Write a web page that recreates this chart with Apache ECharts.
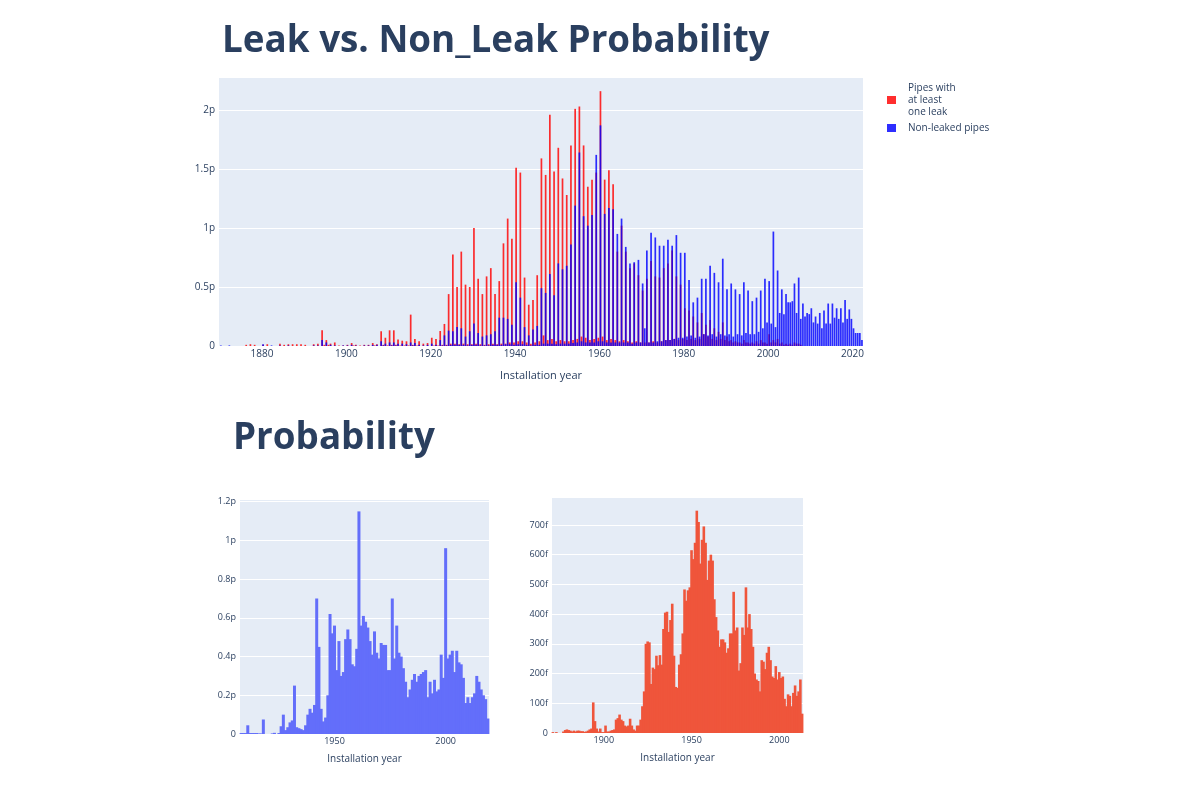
<!DOCTYPE html>
<html><head><meta charset="utf-8">
<script src="https://cdn.jsdelivr.net/npm/echarts@6/dist/echarts.min.js"></script>
<style>html,body{margin:0;padding:0;background:#fff}#c{width:1200px;height:800px}</style>
</head><body><div id="c"></div><script>
// ---------- Top chart: values in pico units, one entry per installation year from 1870 ----------
const topStartYear = 1870;
const topRedMain = [
0,0,0,0,0,0,0.01,0.015,0.01,0,
0.01,0.015,0,0,0.02,0.01,0.015,0.015,0.015,0.015,
0.01,0,0.015,0.02,0.133,0.05,0.02,0.03,0.005,0.005,
0.01,0.025,0.01,0.005,0.01,0.01,0.025,0.015,0.125,0.07,
0.133,0.133,0.055,0.045,0.04,0.266,0.06,0.04,0.02,0.025,
0.07,0.06,0.127,0.187,0.44,0.775,0.50,0.80,0.52,0.50,
1.00,0.57,0.44,0.59,0.66,0.44,0.55,0.87,1.08,0.91,
1.51,1.47,0.58,0.35,0.39,0.60,1.59,1.45,1.96,1.48,
1.68,1.42,1.28,1.70,2.01,2.03,1.70,1.35,1.41,1.47,
2.16,1.41,1.49,1.37,0.80,1.02,0.80,0.66,0.70,0.60,
0.47,0.57,0.72,0.59,0.58,0.66,0.70,0.81,0.59,0.52,
0.32,0.30,0.25,0.20,0.28,0.18,0.22,0.15,0.12,0.20,
0.08,0.05,0.04,0.03,0.05,0.03,0.03,0.04,0.05,0.03,
0.10,0.05,0.06,0.03,0.02,0.02,0.03,0.02,0,0,
0,0,0,0,0,0,0,0,0,0,
0,0,0];
const topBlueMain = [
0.005,0,0.005,0,0,0,0,0,0,0,
0.015,0,0.005,0,0.005,0,0.005,0,0,0,
0,0,0.005,0.005,0.05,0.03,0.01,0.005,0,0.005,
0.005,0.01,0.005,0,0.005,0.005,0.01,0.01,0.04,0.02,
0.03,0.03,0.02,0.02,0.015,0.03,0.025,0.01,0.005,0.01,
0.02,0.01,0.05,0.09,0.13,0.125,0.16,0.15,0.08,0.125,
0.19,0.11,0.08,0.09,0.10,0.125,0.24,0.24,0.23,0.18,
0.54,0.41,0.16,0.09,0.14,0.17,0.49,0.45,0.61,0.43,
0.70,0.65,0.68,0.86,1.19,1.64,1.10,1.02,1.11,1.62,
1.87,1.12,1.17,1.16,0.95,1.08,0.84,0.70,0.71,0.73,
0.53,0.81,0.96,0.92,0.85,0.85,0.90,0.85,0.94,0.79,
0.79,0.56,0.37,0.41,0.57,0.57,0.68,0.62,0.54,0.74,
0.48,0.53,0.48,0.44,0.54,0.47,0.38,0.41,0.47,0.57,
0.55,0.97,0.64,0.48,0.44,0.37,0.53,0.58,0.36,0.28,
0.32,0.25,0.28,0.30,0.36,0.36,0.32,0.32,0.39,0.31,
0.15,0.11,0.05];
// second (half-year) bin of each year
const topRedMinor = [
0,0,0,0,0,0,0,0,0,0,
0,0,0,0,0,0,0,0,0,0,
0,0,0,0,0.01,0.01,0,0,0,0,
0,0.005,0,0,0,0,0.005,0,0.01,0.005,
0.01,0.01,0.005,0.005,0.005,0.01,0.005,0,0,0,
0.005,0.005,0.01,0.01,0.02,0.02,0.015,0.02,0.015,0.015,
0.02,0.015,0.01,0.015,0.02,0.015,0.02,0.02,0.03,0.03,
0.04,0.04,0.03,0.02,0.03,0.04,0.09,0.05,0.06,0.04,
0.05,0.04,0.04,0.05,0.06,0.08,0.07,0.05,0.06,0.07,
0.08,0.05,0.06,0.05,0.04,0.05,0.04,0.03,0.04,0.03,
0.03,0.03,0.04,0.03,0.04,0.05,0.05,0.06,0.05,0.06,
0.05,0.06,0.05,0.06,0.10,0.08,0.06,0.05,0.06,0.05,
0.04,0.03,0.03,0.02,0.03,0.02,0.02,0.02,0.03,0.02,
0.03,0.03,0.02,0.01,0.01,0.01,0.02,0.01,0,0,
0,0,0,0,0,0,0,0,0,0,
0,0,0];
const topBlueMinor = [
0,0,0,0,0,0,0,0,0,0,
0,0,0,0,0,0,0,0,0,0,
0,0,0,0,0,0,0,0,0,0,
0,0,0,0,0,0,0,0,0.005,0,
0.005,0.005,0,0,0,0.005,0,0,0,0,
0,0,0.005,0.005,0.01,0.01,0.01,0.01,0.005,0.01,
0.01,0.005,0.005,0.005,0.01,0.01,0.01,0.015,0.015,0.01,
0.015,0.015,0.01,0.005,0.01,0.01,0.02,0.02,0.02,0.015,
0.02,0.02,0.02,0.025,0.03,0.04,0.03,0.03,0.03,0.04,
0.04,0.03,0.03,0.03,0.03,0.03,0.03,0.02,0.03,0.03,
0.15,0.03,0.03,0.04,0.04,0.05,0.05,0.06,0.07,0.07,
0.08,0.09,0.07,0.08,0.10,0.09,0.10,0.08,0.10,0.09,
0.10,0.08,0.10,0.09,0.11,0.10,0.10,0.12,0.15,0.20,
0.19,0.16,0.28,0.27,0.37,0.38,0.28,0.23,0.25,0.27,
0.20,0.19,0.15,0.19,0.19,0.24,0.23,0.20,0.23,0.23,
0.11,0.11,0];
const topXTicks = [1880,1900,1920,1940,1960,1980,2000,2020];

// ---------- Bottom-left: non-leaked probability (pico), years from 1908 ----------
const leftStartYear = 1908;
const leftValues = [
0.005,0.005,0.005,0.045,0.005,0.005,0.005,0.005,0.003,0.003,
0.075,0,0,0,0.003,0.006,0,0.005,0.04,0.10,
0.02,0.035,0.06,0.07,0.25,0.035,0.03,0.025,0.02,0.045,
0.10,0.13,0.11,0.15,0.70,0.45,0.13,0.065,0.085,0.20,
0.62,0.52,0.56,0.33,0.48,0.30,0.32,0.49,0.54,0.49,
0.36,0.35,0.44,1.15,0.56,0.61,0.58,0.55,0.48,0.41,
0.53,0.42,0.39,0.47,0.46,0.46,0.33,0.33,0.70,0.39,
0.56,0.42,0.40,0.34,0.27,0.19,0.23,0.28,0.31,0.27,
0.30,0.31,0.32,0.33,0.19,0.27,0.21,0.28,0.22,0.23,
0.41,0.29,0.96,0.39,0.41,0.43,0.32,0.43,0.37,0.36,
0.29,0.16,0.19,0.16,0.19,0.21,0.30,0.27,0.23,0.20,
0.18,0.08];
const leftXTicks = [1950,2000];

// ---------- Bottom-right: leak probability (femto), years from 1871 ----------
const rightStartYear = 1871;
const rightValues = [
3,0,3,0,0,0,5,10,12,10,
8,5,8,5,8,8,6,6,4,5,
8,12,15,103,40,15,5,15,3,3,
25,5,5,8,10,12,45,50,62,45,
40,25,22,25,48,25,12,8,25,25,
45,90,140,300,308,305,165,220,215,260,
228,262,230,350,405,408,340,380,435,260,
155,152,230,265,335,483,445,480,490,615,
585,640,748,710,570,650,695,640,515,580,
600,580,450,390,345,290,315,315,305,270,
285,335,335,475,345,355,210,235,355,330,
490,355,400,350,290,200,180,175,140,245,
240,215,270,290,245,190,185,225,180,205,
185,190,115,90,130,125,90,135,160,125,
140,180,65];
const rightXTicks = [1900,1950,2000];

const legendNames = ['Pipes with\nat least\none leak', 'Non-leaked pipes'];
const titles = ['Leak vs. Non_Leak Probability', 'Probability'];
const xTitle = 'Installation year';

// ---------- build ----------
const pairs = (start, arr, off) => arr.map((v, i) => [start + i + off, v]);
const TXT = '#2a3f5f';
const FONT = 'Open Sans';
const fmtP = (step) => (v) => {
  if (Math.abs(v) < 1e-9) return '0';
  const k = v / step;
  if (Math.abs(k - Math.round(k)) > 1e-6) return '';
  return parseFloat(v.toFixed(2)) + 'p';
};
const fmtF = (v) => {
  if (Math.abs(v) < 1e-9) return '0';
  if (Math.abs(v / 100 - Math.round(v / 100)) > 1e-6) return '';
  return Math.round(v) + 'f';
};
const gridBase = {show: true, backgroundColor: '#E5ECF6', borderWidth: 0, containLabel: false};
const xAxisBase = (min, max, ticks, fs, gap) => ({
  type: 'value', min, max,
  axisLine: {show: false}, axisTick: {show: false}, splitLine: {show: false},
  axisLabel: {customValues: ticks, formatter: (v) => String(Math.round(v)),
              color: TXT, fontFamily: FONT, fontSize: fs, margin: 3},
  name: xTitle, nameLocation: 'middle', nameGap: gap,
  nameTextStyle: {color: TXT, fontFamily: FONT, fontSize: fs + 1}
});
const yAxisBase = (max, interval, fmt, fs) => ({
  type: 'value', min: 0, max, interval,
  axisLine: {show: false}, axisTick: {show: false},
  splitLine: {lineStyle: {color: '#ffffff', width: 1}},
  axisLabel: {formatter: fmt, color: TXT, fontFamily: FONT, fontSize: fs, margin: 4}
});
const RED = 'rgba(255,0,0,0.82)';
const BLUE = 'rgba(0,0,255,0.82)';

const option = {
  animation: false,
  backgroundColor: '#ffffff',
  title: [
    {text: titles[0], left: 222, top: 23, padding: 0,
     textStyle: {color: TXT, fontFamily: 'Open Sans', fontWeight: 'bold', fontSize: 36.8}},
    {text: titles[1], left: 233, top: 420, padding: 0,
     textStyle: {color: TXT, fontFamily: 'Open Sans', fontWeight: 'bold', fontSize: 36.8}}
  ],
  legend: {
    orient: 'vertical', left: 887, top: 82, padding: 0, itemGap: 4,
    itemWidth: 9, itemHeight: 8, icon: 'rect',
    data: legendNames,
    textStyle: {color: TXT, fontFamily: FONT, fontSize: 10, lineHeight: 12, padding: [0, 0, 0, 7]}
  },
  grid: [
    Object.assign({left: 219, top: 77, width: 644, height: 269}, gridBase),
    Object.assign({left: 240, top: 499, width: 249, height: 235}, gridBase),
    Object.assign({left: 552, top: 497, width: 251, height: 236}, gridBase)
  ],
  xAxis: [
    Object.assign({gridIndex: 0}, xAxisBase(1869.8, 2022.5, topXTicks, 10, 24)),
    Object.assign({gridIndex: 1}, xAxisBase(1907.5, 2019.5, leftXTicks, 9, 20)),
    Object.assign({gridIndex: 2}, xAxisBase(1870.5, 2013.5, rightXTicks, 9, 20))
  ],
  yAxis: [
    Object.assign({gridIndex: 0}, yAxisBase(2.28, 0.5, fmtP(0.5), 10)),
    Object.assign({gridIndex: 1}, yAxisBase(1.214, 0.2, fmtP(0.2), 9)),
    Object.assign({gridIndex: 2}, yAxisBase(794, 100, fmtF, 9))
  ],
  series: [
    {name: legendNames[0], type: 'bar', xAxisIndex: 0, yAxisIndex: 0, barWidth: 1.7, barGap: '-100%',
     itemStyle: {color: RED}, data: pairs(topStartYear, topRedMain, 0.25)},
    {name: legendNames[0], type: 'bar', xAxisIndex: 0, yAxisIndex: 0, barWidth: 1.7, barGap: '-100%',
     itemStyle: {color: RED}, data: pairs(topStartYear, topRedMinor, 0.75)},
    {name: legendNames[1], type: 'bar', xAxisIndex: 0, yAxisIndex: 0, barWidth: 1.7, barGap: '-100%',
     itemStyle: {color: BLUE}, data: pairs(topStartYear, topBlueMain, 0.25)},
    {name: legendNames[1], type: 'bar', xAxisIndex: 0, yAxisIndex: 0, barWidth: 1.7, barGap: '-100%',
     itemStyle: {color: BLUE}, data: pairs(topStartYear, topBlueMinor, 0.75)},
    {name: 'left', type: 'bar', xAxisIndex: 1, yAxisIndex: 1, barWidth: 3,
     itemStyle: {color: '#636EFA'}, data: pairs(leftStartYear, leftValues, 0)},
    {name: 'right', type: 'bar', xAxisIndex: 2, yAxisIndex: 2, barWidth: 2.6,
     itemStyle: {color: '#EF553B'}, data: pairs(rightStartYear, rightValues, 0)}
  ]
};
const chart = echarts.init(document.getElementById('c'), null, {renderer: 'canvas'});
chart.setOption(option);
</script></body></html>
